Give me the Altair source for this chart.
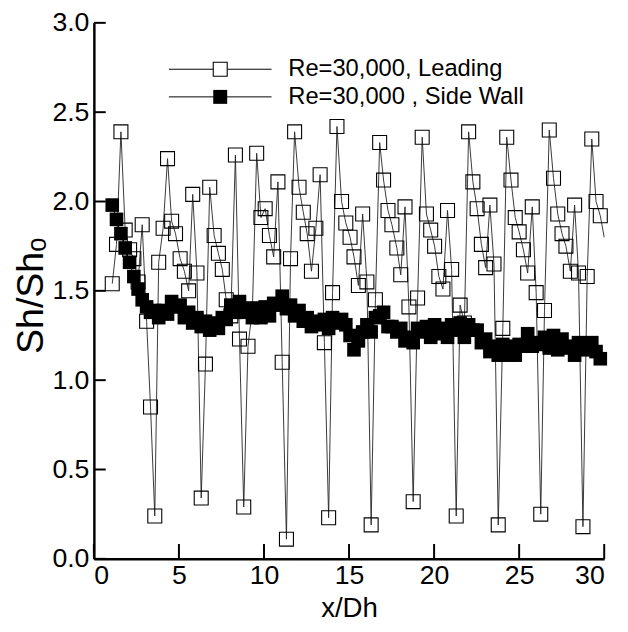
import altair as alt
import pandas as pd

# ---- data ----
x_dh = [1.08, 1.33, 1.59, 1.84, 2.10, 2.35, 2.60, 2.84, 3.10, 3.33,
        3.58, 3.81, 4.07, 4.33, 4.57, 4.80, 5.07, 5.32, 5.57, 5.81,
        6.06, 6.31, 6.56, 6.81, 7.07, 7.32, 7.55, 7.78, 8.05, 8.32,
        8.56, 8.81, 9.06, 9.32, 9.57, 9.82, 10.07, 10.32, 10.57, 10.82,
        11.07, 11.32, 11.56, 11.80, 12.06, 12.31, 12.54, 12.79, 13.05, 13.30,
        13.55, 13.80, 14.03, 14.29, 14.56, 14.81, 15.06, 15.29, 15.55, 15.80,
        16.05, 16.30, 16.55, 16.80, 17.03, 17.29, 17.52, 17.81, 18.04, 18.29,
        18.52, 18.77, 19.03, 19.30, 19.55, 19.80, 20.03, 20.28, 20.52, 20.79,
        21.03, 21.30, 21.53, 21.78, 22.03, 22.28, 22.53, 22.78, 23.03, 23.28,
        23.52, 23.77, 24.04, 24.27, 24.52, 24.77, 25.00, 25.25, 25.50, 25.77,
        26.00, 26.27, 26.49, 26.77, 27.02, 27.27, 27.52, 27.75, 28.01, 28.26,
        28.49, 28.75, 29.00, 29.27, 29.52, 29.77]

leading = [1.54, 1.76, 2.39, 1.84, 1.73, 1.68, 1.55, 1.87, 1.33, 0.85,
           0.24, 1.66, 1.85, 2.24, 1.89, 1.82, 1.68, 1.61, 1.50, 2.04,
           1.60, 0.34, 1.09, 2.08, 1.81, 1.71, 1.62, 1.45, 1.36, 2.26,
           1.23, 0.29, 1.19, 1.40, 2.27, 1.91, 1.96, 1.81, 1.69, 2.11,
           1.10, 0.11, 1.68, 2.39, 2.08, 1.94, 1.82, 1.61, 1.85, 2.15,
           1.21, 0.23, 1.49, 2.42, 2.00, 1.88, 1.80, 1.69, 1.53, 1.93,
           1.55, 0.19, 1.45, 2.33, 2.12, 1.95, 1.87, 1.74, 1.59, 1.97,
           1.41, 0.32, 1.46, 2.36, 1.93, 1.84, 1.75, 1.58, 1.51, 1.95,
           1.62, 0.24, 1.42, 1.32, 2.39, 2.11, 1.96, 1.76, 1.63, 1.98,
           1.65, 0.19, 1.29, 2.36, 2.12, 1.91, 1.83, 1.73, 1.60, 1.97,
           1.49, 0.25, 1.39, 2.40, 2.13, 1.93, 1.82, 1.75, 1.61, 1.98,
           1.60, 0.18, 1.58, 2.35, 2.00, 1.92]
leading_end_x = [30.0]
leading_end_y = [1.80]

side_wall = [1.98, 1.90, 1.82, 1.74, 1.66, 1.58, 1.51, 1.45, 1.41, 1.38,
             1.39, 1.35, 1.39, 1.37, 1.44, 1.41, 1.42, 1.35, 1.38, 1.32,
             1.35, 1.30, 1.33, 1.28, 1.32, 1.29, 1.35, 1.34, 1.42, 1.38,
             1.44, 1.38, 1.40, 1.35, 1.40, 1.35, 1.41, 1.36, 1.43, 1.42,
             1.47, 1.40, 1.42, 1.36, 1.39, 1.33, 1.35, 1.30, 1.33, 1.31,
             1.34, 1.29, 1.35, 1.32, 1.34, 1.31, 1.25, 1.17, 1.22, 1.27,
             1.31, 1.27, 1.35, 1.36, 1.38, 1.30, 1.30, 1.27, 1.29, 1.22,
             1.24, 1.21, 1.29, 1.27, 1.30, 1.24, 1.31, 1.26, 1.29, 1.24,
             1.31, 1.28, 1.32, 1.24, 1.31, 1.28, 1.28, 1.21, 1.23, 1.16,
             1.19, 1.14, 1.20, 1.14, 1.19, 1.14, 1.20, 1.19, 1.26, 1.19,
             1.21, 1.20, 1.24, 1.18, 1.25, 1.17, 1.23, 1.18, 1.19, 1.14,
             1.21, 1.17, 1.19, 1.21, 1.16, 1.12]

x_ticks = [0, 5, 10, 15, 20, 25, 30]
y_ticks = [0.0, 0.5, 1.0, 1.5, 2.0, 2.5, 3.0]
legend_labels = ["Re=30,000, Leading", "Re=30,000 , Side Wall"]

# ---- layout ----
W, H = 517, 543
FONT = "Liberation Sans"

df_lead = pd.DataFrame({"x": x_dh + leading_end_x, "y": leading + leading_end_y})
df_side = pd.DataFrame({"x": x_dh, "y": side_wall})
df_xt = pd.DataFrame({"v": x_ticks})
df_yt = pd.DataFrame({"v": y_ticks})

xs = alt.Scale(domain=[0, 30], nice=False, zero=False)
ys = alt.Scale(domain=[0, 3], nice=False, zero=False)

x_axis = alt.Axis(values=x_ticks, format="d", title="x/Dh", ticks=False, grid=False,
                  domainWidth=2.5, domainColor="black", labelColor="black",
                  labelFontSize=27, labelFont=FONT, labelPadding=4,
                  titleFontSize=28, titleFont=FONT, titleFontWeight="normal",
                  titleColor="black", titleBaseline="alphabetic", titleY=58)
y_axis = alt.Axis(values=y_ticks, format=".1f", title="Sh/Sh\u2092", ticks=False, grid=False,
                  domainWidth=2.5, domainColor="black", labelColor="black",
                  labelFontSize=27, labelFont=FONT, labelPadding=5,
                  titleFontSize=38, titleFont=FONT, titleFontWeight="normal",
                  titleColor="black", titleBaseline="alphabetic", titleX=-52, titleY=276)


def X(f):
    return alt.X(f, type="quantitative", scale=xs, axis=x_axis)


def Y(f):
    return alt.Y(f, type="quantitative", scale=ys, axis=y_axis)


lead_line = alt.Chart(df_lead).mark_line(color="#222222", strokeWidth=0.9).encode(
    x=X("x"), y=Y("y"), order="x:Q")
lead_pts = alt.Chart(df_lead).transform_filter("datum.x < 29.9").mark_point(
    shape="square", size=200, filled=False, color="black", strokeWidth=1.1, opacity=1
).encode(x=X("x"), y=Y("y"))

side_line = alt.Chart(df_side).mark_line(color="black", strokeWidth=1).encode(
    x=X("x"), y=Y("y"), order="x:Q")
side_pts = alt.Chart(df_side).mark_point(
    shape="square", size=190, filled=True, color="black", opacity=1
).encode(x=X("x"), y=Y("y"))

xtick = alt.Chart(df_xt).mark_rule(color="black", strokeWidth=2).encode(
    x=X("v"), y=alt.value(H), y2=alt.value(H - 15))
ytick = alt.Chart(df_yt).mark_rule(color="black", strokeWidth=2).encode(
    y=Y("v"), x=alt.value(0), x2=alt.value(12))

# manual legend
leg_layers = []
for i, (lab, filled) in enumerate(zip(legend_labels, [False, True])):
    ly = 47 + 28 * i
    d = pd.DataFrame({"label": [lab]})
    leg_layers.append(alt.Chart(d).mark_rule(color="black", strokeWidth=1).encode(
        x=alt.value(76), x2=alt.value(180), y=alt.value(ly)))
    leg_layers.append(alt.Chart(d).mark_point(
        shape="square", size=200, filled=filled, color="black",
        fill="black" if filled else "white", strokeWidth=1.1, opacity=1
    ).encode(x=alt.value(128), y=alt.value(ly)))
    leg_layers.append(alt.Chart(d).mark_text(
        align="left", baseline="middle", fontSize=24, font=FONT, color="black"
    ).encode(x=alt.value(197), y=alt.value(ly), text="label:N"))

chart = alt.layer(lead_line, lead_pts, side_line, side_pts, xtick, ytick, *leg_layers).properties(
    width=W, height=H,
    autosize=alt.AutoSizeParams(type="none"),
    padding={"left": 87, "top": 11, "right": 16, "bottom": 64},
).configure_view(stroke=None)

chart.save("out.html", embed_options={"renderer": "svg", "actions": False})
